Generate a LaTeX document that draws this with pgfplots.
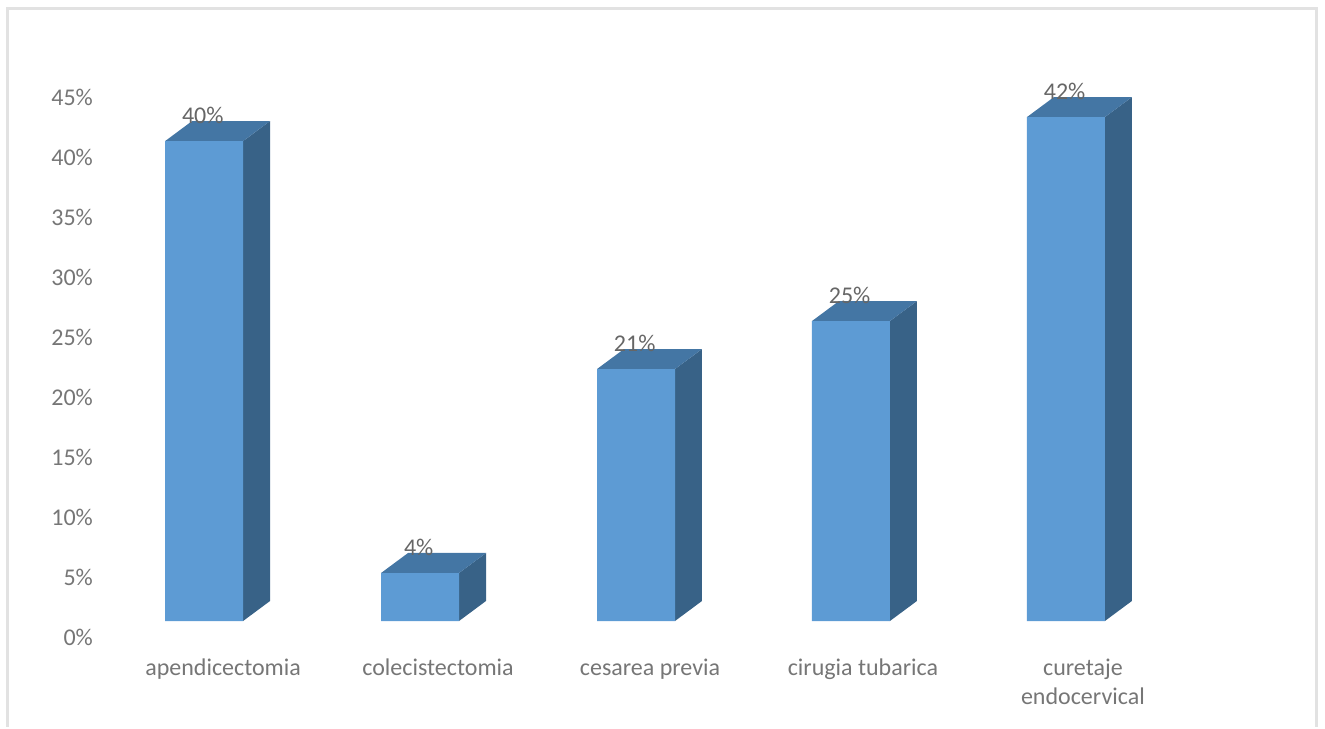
\documentclass[border=0pt]{standalone}
\usepackage{pgfplots}
\pgfplotsset{compat=1.18}
\usepackage{fontspec}
\setmainfont{Carlito}
\definecolor{barfront}{HTML}{5D9BD4}
\definecolor{bartop}{HTML}{4476A4}
\definecolor{barside}{HTML}{386287}
\definecolor{ticktext}{HTML}{767676}
\definecolor{valtext}{HTML}{666666}
\definecolor{framegray}{HTML}{E2E2E2}
\begin{document}
\begin{tikzpicture}[x=1pt,y=1pt]
\begin{axis}[
  at={(0,0)}, anchor=south west,
  scale only axis, width=993.75pt, height=545.25pt,
  xmin=0, xmax=1325, ymin=-8.8333, ymax=51.75,
  clip=false,
  axis line style={draw=none},
  major tick length=0pt,
  ytick={0,5,...,45},
  yticklabel={\pgfmathprintnumber{\tick}\%},
  yticklabel style={anchor=east, xshift=69.75pt, yshift=-12.5pt, font=\fontsize{18}{21}\selectfont, text=ticktext,
    /pgf/number format/assume math mode=true},
  xtick={223,438,650,863,1083},
  xticklabels={apendicectomia,colecistectomia,cesarea previa,cirugia tubarica,{curetaje\\endocervical}},
  xticklabel style={anchor=north, align=center, yshift=51pt, font=\fontsize{18}{21.75}\selectfont, text=ticktext},
  tick label style={inner sep=0pt},
]
% chart frame, open along the lower edge
\addplot[framegray, line width=2.25pt, forget plot] coordinates {(7,-8.8333) (7,51.08) (1317,51.08) (1317,-8.8333)};

% right-hand faces of the columns
\addplot[fill=barside, draw=none, forget plot] coordinates {(243,0) (270,1.67) (270,41.67) (243,40)} -- cycle;
\addplot[fill=barside, draw=none, forget plot] coordinates {(459,0) (486,1.67) (486,5.67) (459,4)} -- cycle;
\addplot[fill=barside, draw=none, forget plot] coordinates {(675,0) (702,1.67) (702,22.67) (675,21)} -- cycle;
\addplot[fill=barside, draw=none, forget plot] coordinates {(890,0) (917,1.67) (917,26.67) (890,25)} -- cycle;
\addplot[fill=barside, draw=none, forget plot] coordinates {(1105,0) (1132,1.67) (1132,43.67) (1105,42)} -- cycle;

% top faces of the columns
\addplot[fill=bartop, draw=none, forget plot] coordinates {(165,40) (243,40) (270,41.67) (192,41.67)} -- cycle;
\addplot[fill=bartop, draw=none, forget plot] coordinates {(381,4) (459,4) (486,5.67) (408,5.67)} -- cycle;
\addplot[fill=bartop, draw=none, forget plot] coordinates {(597,21) (675,21) (702,22.67) (624,22.67)} -- cycle;
\addplot[fill=bartop, draw=none, forget plot] coordinates {(812,25) (890,25) (917,26.67) (839,26.67)} -- cycle;
\addplot[fill=bartop, draw=none, forget plot] coordinates {(1027,42) (1105,42) (1132,43.67) (1054,43.67)} -- cycle;

% front faces with their value labels
\addplot[ybar, bar width=58.5pt, bar shift=0pt, fill=barfront, draw=none,
  nodes near coords={\pgfmathprintnumber{\pgfplotspointmeta}\%},
  every node near coord/.append style={anchor=center, xshift=-1pt, yshift=19pt, inner sep=0pt,
    font=\fontsize{18}{21}\selectfont, text=valtext,
    /pgf/number format/assume math mode=true},
  point meta=y]
  coordinates {(204,40) (420,4) (636,21) (851,25) (1066,42)};
\end{axis}
\end{tikzpicture}
\end{document}
